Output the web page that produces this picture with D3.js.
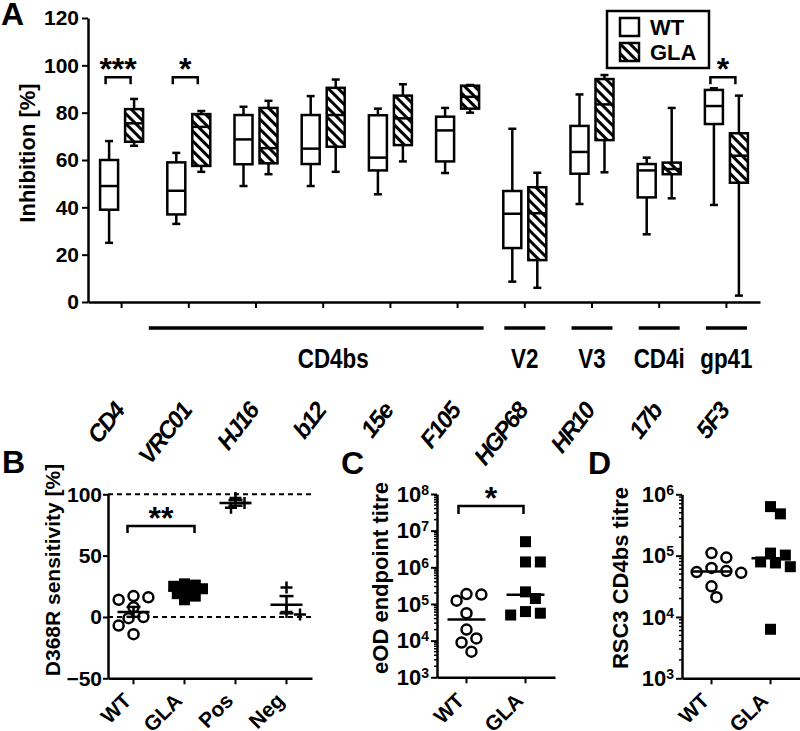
<!DOCTYPE html>
<html>
<head>
<meta charset="utf-8">
<script src="https://cdn.jsdelivr.net/npm/d3@7"></script>
<style>
body { margin: 0; background: #fff; }
svg text { font-family: "Liberation Sans", Arial, sans-serif; font-weight: bold; fill: #000; }
</style>
</head>
<body>
<svg id="fig" width="800" height="731"></svg>
<script>
// ---- Panel A data: box plots of inhibition [%]
var antibodies = ['CD4', 'VRC01', 'HJ16', 'b12', '15e', 'F105', 'HGP68', 'HR10', '17b', '5F3']
var wtMin = [25, 33, 49, 49, 45.5, 54.5, 8.6, 41.4, 28.6, 41]
var wtQ1 = [39, 37, 58.2, 58.3, 55.6, 59.4, 22.8, 54.2, 44.2, 75.2]
var wtMed = [49, 47, 68.7, 64.8, 61, 72.5, 37.3, 63.4, 55.6, 82.8]
var wtQ3 = [60, 59, 79, 79, 78.9, 78.3, 46.9, 74.4, 58.3, 89.6]
var wtMax = [68, 63, 82.5, 87, 81.7, 82, 73.2, 87.7, 61, 90.3]
var glaMin = [66, 55, 54, 55, 59.4, 80, 6, 54.8, 43.8, 2.7]
var glaQ1 = [67.7, 57.5, 58.6, 65.6, 66.3, 81.7, 17.7, 68.4, 54, 50.4]
var glaMed = [75.5, 74, 65, 79, 77.6, 86.7, 37.5, 83.5, 56.2, 61.8]
var glaQ3 = [81.5, 79.4, 82, 90.5, 87.2, 91.4, 48.5, 94.2, 58.9, 71.3]
var glaMax = [85.8, 80.7, 85, 94, 92, 91.7, 54.6, 95.9, 82, 87.2]

var epitopes = ['CD4bs', 'V2', 'V3', 'CD4i', 'gp41']
var epitopeFirst = ['VRC01', 'HGP68', 'HR10', '17b', '5F3']
var epitopeLast = ['F105', 'HGP68', 'HR10', '17b', '5F3']

var sigAntibodies = ['CD4', 'VRC01', '5F3']
var sigStars = ['***', '*', '*']

// ---- Panel B data: D368R sensitivity [%]
var bGroups = ['WT', 'GLA', 'Pos', 'Neg']
var bWT = [17, 16, 14, 8, 0, -1, -7, -14]
var bGLA = [27, 26, 25, 23, 21, 19, 17, 14]
var bPos = [97, 93, 89]
var bNeg = [24, 4, 2]

// ---- Panel C data: eOD endpoint titre
var cdGroups = ['WT', 'GLA']
var cWT = [186000, 180000, 123000, 56000, 20000, 11500, 8900, 5000]
var cGLA = [5000000, 1400000, 1400000, 214000, 141000, 62000, 56000, 50000]

// ---- Panel D data: RSC3 CD4bs titre
var dWT = [110000, 93000, 63000, 56000, 54000, 52500, 31600, 21000]
var dGLA = [630000, 480000, 110000, 102000, 79000, 76000, 66000, 6300]

var svg = d3.select('#fig')

var defs = svg.append('defs')
var hatch = defs.append('pattern')
    .attr('id', 'hatch')
    .attr('patternUnits', 'userSpaceOnUse')
    .attr('width', 7).attr('height', 7)
    .attr('patternTransform', 'rotate(-45)')
hatch.append('rect').attr('width', 7).attr('height', 7).attr('fill', '#fff')
hatch.append('rect').attr('width', 3).attr('height', 7).attr('fill', '#000')

function styleAxis(g, fontSize) {
    g.select('.domain').attr('stroke', '#000').attr('stroke-width', 2.5)
    g.selectAll('.tick line').attr('stroke', '#000').attr('stroke-width', 2)
    g.selectAll('.tick text').attr('font-size', fontSize).attr('fill', '#000')
}

// simple swarm so points with close values sit side by side
function swarm(values, yScale, cx, d) {
    var placed = []
    var offs = [0]
    for (var i = 1; i < 12; i++) { offs.push(i * d * 0.45, -i * d * 0.45) }
    return values.map(function (v) {
        var y = yScale(v), x = cx
        for (var j = 0; j < offs.length; j++) {
            x = cx + offs[j]
            var free = placed.every(function (p) { return Math.hypot(p.x - x, p.y - y) >= d })
            if (free) break
        }
        placed.push({ x: x, y: y })
        return { x: x, y: y }
    })
}

function bracket(g, x1, x2, yTop, legs, stars, fontSize) {
    g.append('path')
        .attr('d', 'M' + x1 + ',' + (yTop + legs) + 'V' + yTop + 'H' + x2 + 'V' + (yTop + legs))
        .attr('fill', 'none').attr('stroke', '#000').attr('stroke-width', 2.5)
    g.append('text')
        .attr('x', (x1 + x2) / 2).attr('y', yTop + 3)
        .attr('text-anchor', 'middle').attr('font-size', fontSize)
        .text(stars)
}

// slanted label: every glyph is placed along a diagonal that ends at (x, y)
function slantLabel(parent, x, y, sx, txt, size, italic) {
    var t = parent.append('text').attr('font-size', size)
        .attr('font-style', italic ? 'italic' : 'normal')
        .text(txt)
    var node = t.node()
    var total = node.getComputedTextLength()
    var starts = []
    for (var i = 0; i < txt.length; i++) starts.push(node.getStartPositionOfChar(i).x)
    var c = Math.SQRT1_2
    var xs = starts.map(function (s) { return (x + sx * (s - total) * c).toFixed(1) })
    var ys = starts.map(function (s) { return (y - (s - total) * c).toFixed(1) })
    var ang = -Math.atan2(1, sx) * 180 / Math.PI
    t.attr('x', xs.join(' ')).attr('y', ys.join(' '))
        .attr('rotate', starts.map(function () { return ang.toFixed(1) }).join(' '))
}

// ================= Panel A =================
var xA = d3.scaleBand().domain(antibodies).range([88, 760])
var yA = d3.scaleLinear().domain([0, 120]).range([302, 18])
var gA = svg.append('g')

var axYA = gA.append('g').attr('transform', 'translate(88,0)')
    .call(d3.axisLeft(yA).tickValues([0, 20, 40, 60, 80, 100, 120]).tickSize(6).tickSizeOuter(0).tickPadding(3))
styleAxis(axYA, 21)
var axXA = gA.append('g').attr('transform', 'translate(0,302)')
    .call(d3.axisBottom(xA).tickSize(6).tickSizeOuter(0).tickFormat(''))
styleAxis(axXA, 21)

gA.append('text')
    .attr('transform', 'translate(35,153) rotate(-90)')
    .attr('text-anchor', 'middle').attr('font-size', 22)
    .text('Inhibition [%]')

var boxW = 18, capW = 8, off = 12.5
function drawBoxes(mins, q1s, meds, q3s, maxs, dx, fill) {
    antibodies.forEach(function (ab, i) {
        var cx = xA(ab) + xA.bandwidth() / 2 + dx
        var g = gA.append('g').attr('stroke', '#000').attr('stroke-width', 2.5)
        g.append('line').attr('x1', cx).attr('x2', cx).attr('y1', yA(maxs[i])).attr('y2', yA(q3s[i]))
        g.append('line').attr('x1', cx).attr('x2', cx).attr('y1', yA(q1s[i])).attr('y2', yA(mins[i]))
        g.append('line').attr('x1', cx - capW / 2).attr('x2', cx + capW / 2).attr('y1', yA(maxs[i])).attr('y2', yA(maxs[i]))
        g.append('line').attr('x1', cx - capW / 2).attr('x2', cx + capW / 2).attr('y1', yA(mins[i])).attr('y2', yA(mins[i]))
        g.append('rect').attr('x', cx - boxW / 2).attr('width', boxW)
            .attr('y', yA(q3s[i])).attr('height', yA(q1s[i]) - yA(q3s[i]))
            .attr('fill', fill)
        g.append('line').attr('x1', cx - boxW / 2).attr('x2', cx + boxW / 2).attr('y1', yA(meds[i])).attr('y2', yA(meds[i]))
    })
}
drawBoxes(wtMin, wtQ1, wtMed, wtQ3, wtMax, -off, '#fff')
drawBoxes(glaMin, glaQ1, glaMed, glaQ3, glaMax, off, 'url(#hatch)')

sigAntibodies.forEach(function (ab, i) {
    var cx = xA(ab) + xA.bandwidth() / 2
    bracket(gA, cx - 16, cx + 9, yA(95), 7, sigStars[i], 32)
})

// epitope groups under the axis
epitopes.forEach(function (ep, i) {
    var c1 = xA(epitopeFirst[i]) + xA.bandwidth() / 2
    var c2 = xA(epitopeLast[i]) + xA.bandwidth() / 2
    var x1 = c1 === c2 ? c1 - 20.5 : c1 - 40
    var x2 = c1 === c2 ? c2 + 20.5 : c2 + 26
    gA.append('line').attr('x1', x1).attr('x2', x2).attr('y1', 328).attr('y2', 328)
        .attr('stroke', '#000').attr('stroke-width', 3.5)
    var lx = c1 === c2 ? c1 : (c1 + c2) / 2 + 10
    gA.append('text')
        .attr('transform', 'translate(' + lx + ',368) scale(0.8,1)')
        .attr('text-anchor', 'middle').attr('font-size', 28)
        .text(ep)
})

antibodies.forEach(function (ab) {
    var cx = xA(ab) + xA.bandwidth() / 2
    slantLabel(gA, cx + 4, 411, 0.78, ab, 24, true)
})

// legend
var leg = gA.append('g')
leg.append('rect').attr('x', 607).attr('y', 11).attr('width', 102).attr('height', 57)
    .attr('fill', '#fff').attr('stroke', '#000').attr('stroke-width', 2.5)
var legFills = ['#fff', 'url(#hatch)']
cdGroups.forEach(function (name, i) {
    leg.append('rect').attr('x', 620).attr('y', 18 + i * 25).attr('width', 19).attr('height', 18)
        .attr('fill', legFills[i]).attr('stroke', '#000').attr('stroke-width', 2.5)
    leg.append('text').attr('x', 650).attr('y', 35 + i * 25).attr('font-size', 22).text(name)
})

// ================= Panel B =================
var xB = d3.scaleBand().domain(bGroups).range([108, 312])
var yB = d3.scaleLinear().domain([-50, 100]).range([678.3, 494.3])
var gB = svg.append('g')

;[0, 100].forEach(function (v) {
    gB.append('line').attr('x1', 108).attr('x2', 312).attr('y1', yB(v)).attr('y2', yB(v))
        .attr('stroke', '#000').attr('stroke-width', 2).attr('stroke-dasharray', '5,4')
})
var axYB = gB.append('g').attr('transform', 'translate(108,0)')
    .call(d3.axisLeft(yB).tickValues([-50, 0, 50, 100]).tickSize(5).tickSizeOuter(0).tickPadding(1))
styleAxis(axYB, 21)
var axXB = gB.append('g').attr('transform', 'translate(0,678.3)')
    .call(d3.axisBottom(xB).tickSize(6).tickSizeOuter(0).tickFormat(''))
styleAxis(axXB, 21)

gB.append('text')
    .attr('transform', 'translate(60,570) rotate(-90)')
    .attr('text-anchor', 'middle').attr('font-size', 21)
    .text('D368R sensitivity [%]')

var bSets = [bWT, bGLA, bPos, bNeg]
var bMarks = ['circle', 'square', 'plus', 'plus']
function drawMarker(g, type, p) {
    if (type === 'circle') {
        g.append('circle').attr('cx', p.x).attr('cy', p.y).attr('r', 5)
            .attr('fill', '#fff').attr('stroke', '#000').attr('stroke-width', 2.5)
    } else if (type === 'square') {
        g.append('rect').attr('x', p.x - 5.5).attr('y', p.y - 5.5).attr('width', 11).attr('height', 11)
            .attr('fill', '#000')
    } else {
        g.append('path').attr('d', 'M' + (p.x - 6) + ',' + p.y + 'h12M' + p.x + ',' + (p.y - 6) + 'v12')
            .attr('stroke', '#000').attr('stroke-width', 2.5)
    }
}
bSets.forEach(function (vals, i) {
    var cx = xB(bGroups[i]) + xB.bandwidth() / 2
    var mean = d3.mean(vals)
    var sem = d3.deviation(vals) / Math.sqrt(vals.length)
    var d = bMarks[i] === 'plus' ? 10 : (bMarks[i] === 'square' ? 8 : 11)
    swarm(vals, yB, cx, d).forEach(function (p) { drawMarker(gB, bMarks[i], p) })
    var g = gB.append('g').attr('stroke', '#000').attr('stroke-width', 2.5)
    g.append('line').attr('x1', cx - 16).attr('x2', cx + 16).attr('y1', yB(mean)).attr('y2', yB(mean))
    g.append('line').attr('x1', cx).attr('x2', cx).attr('y1', yB(mean - sem)).attr('y2', yB(mean + sem))
    g.append('line').attr('x1', cx - 7).attr('x2', cx + 7).attr('y1', yB(mean + sem)).attr('y2', yB(mean + sem))
    g.append('line').attr('x1', cx - 7).attr('x2', cx + 7).attr('y1', yB(mean - sem)).attr('y2', yB(mean - sem))
})
bracket(gB, xB('WT') + xB.bandwidth() / 2 - 6, xB('GLA') + xB.bandwidth() / 2 + 10, 526, 7, '**', 32)

bGroups.forEach(function (name) {
    var cx = xB(name) + xB.bandwidth() / 2
    slantLabel(gB, cx - 1, 702, 1, name, 21, false)
})

// ================= Panels C and D (log titres) =================
function logPanel(x0, x1, yScale, decades, wt, gla, label, labelX, bracketStars) {
    var g = svg.append('g')
    var xS = d3.scaleBand().domain(cdGroups).range([x0, x1])
    var majors = decades.map(function (k) { return Math.pow(10, k) })
    var minors = []
    decades.slice(0, -1).forEach(function (k) {
        for (var m = 2; m < 10; m++) minors.push(m * Math.pow(10, k))
    })
    g.selectAll('.minor').data(minors).enter().append('line')
        .attr('x1', x0 - 3).attr('x2', x0).attr('y1', yScale).attr('y2', yScale)
        .attr('stroke', '#000').attr('stroke-width', 1.5)
    var ay = g.append('g').attr('transform', 'translate(' + x0 + ',0)')
        .call(d3.axisLeft(yScale).tickValues(majors).tickSize(6).tickSizeOuter(0).tickPadding(2).tickFormat(''))
    styleAxis(ay, 22)
    ay.selectAll('.tick text').each(function (v) {
        var t = d3.select(this)
        t.append('tspan').text('10')
        t.append('tspan').attr('dy', -7).attr('font-size', 14).text(Math.round(Math.log10(v)))
    })
    var ax = g.append('g').attr('transform', 'translate(0,' + yScale.range()[0] + ')')
        .call(d3.axisBottom(xS).tickSize(6).tickSizeOuter(0).tickFormat(''))
    styleAxis(ax, 21)

    g.append('text')
        .attr('transform', 'translate(' + labelX + ',578) rotate(-90)')
        .attr('text-anchor', 'middle').attr('font-size', 22)
        .text(label)

    var sets = [wt, gla], marks = ['circle', 'square']
    sets.forEach(function (vals, i) {
        var cx = xS(cdGroups[i]) + xS.bandwidth() / 2
        swarm(vals, yScale, cx, 11).forEach(function (p) { drawMarker(g, marks[i], p) })
        var med = d3.median(vals)
        g.append('line').attr('x1', cx - 19).attr('x2', cx + 19).attr('y1', yScale(med)).attr('y2', yScale(med))
            .attr('stroke', '#000').attr('stroke-width', 2.5)
    })
    if (bracketStars) {
        bracket(g, xS('WT') + xS.bandwidth() / 2 - 8, xS('GLA') + xS.bandwidth() / 2 - 2, 506, 8, bracketStars, 32)
    }
    cdGroups.forEach(function (name) {
        var cx = xS(name) + xS.bandwidth() / 2
        slantLabel(g, cx - 1, 702, 1, name, 21, false)
    })
}

var yC = d3.scaleLog().domain([1e3, 1e8]).range([677.3, 494])
logPanel(437, 555, yC, [3, 4, 5, 6, 7, 8], cWT, cGLA, 'eOD endpoint titre', 388, '*')

var yD = d3.scaleLog().domain([1e3, 1e6]).range([678.3, 494.3])
logPanel(682, 800, yD, [3, 4, 5, 6], dWT, dGLA, 'RSC3 CD4bs titre', 628, null)

// panel letters
var letters = ['A', 'B', 'C', 'D']
var letterX = [1, 2, 341, 588]
var letterY = [25, 473, 474, 474]
letters.forEach(function (l, i) {
    svg.append('text').attr('x', letterX[i]).attr('y', letterY[i]).attr('font-size', 32).text(l)
})
</script>
</body>
</html>
